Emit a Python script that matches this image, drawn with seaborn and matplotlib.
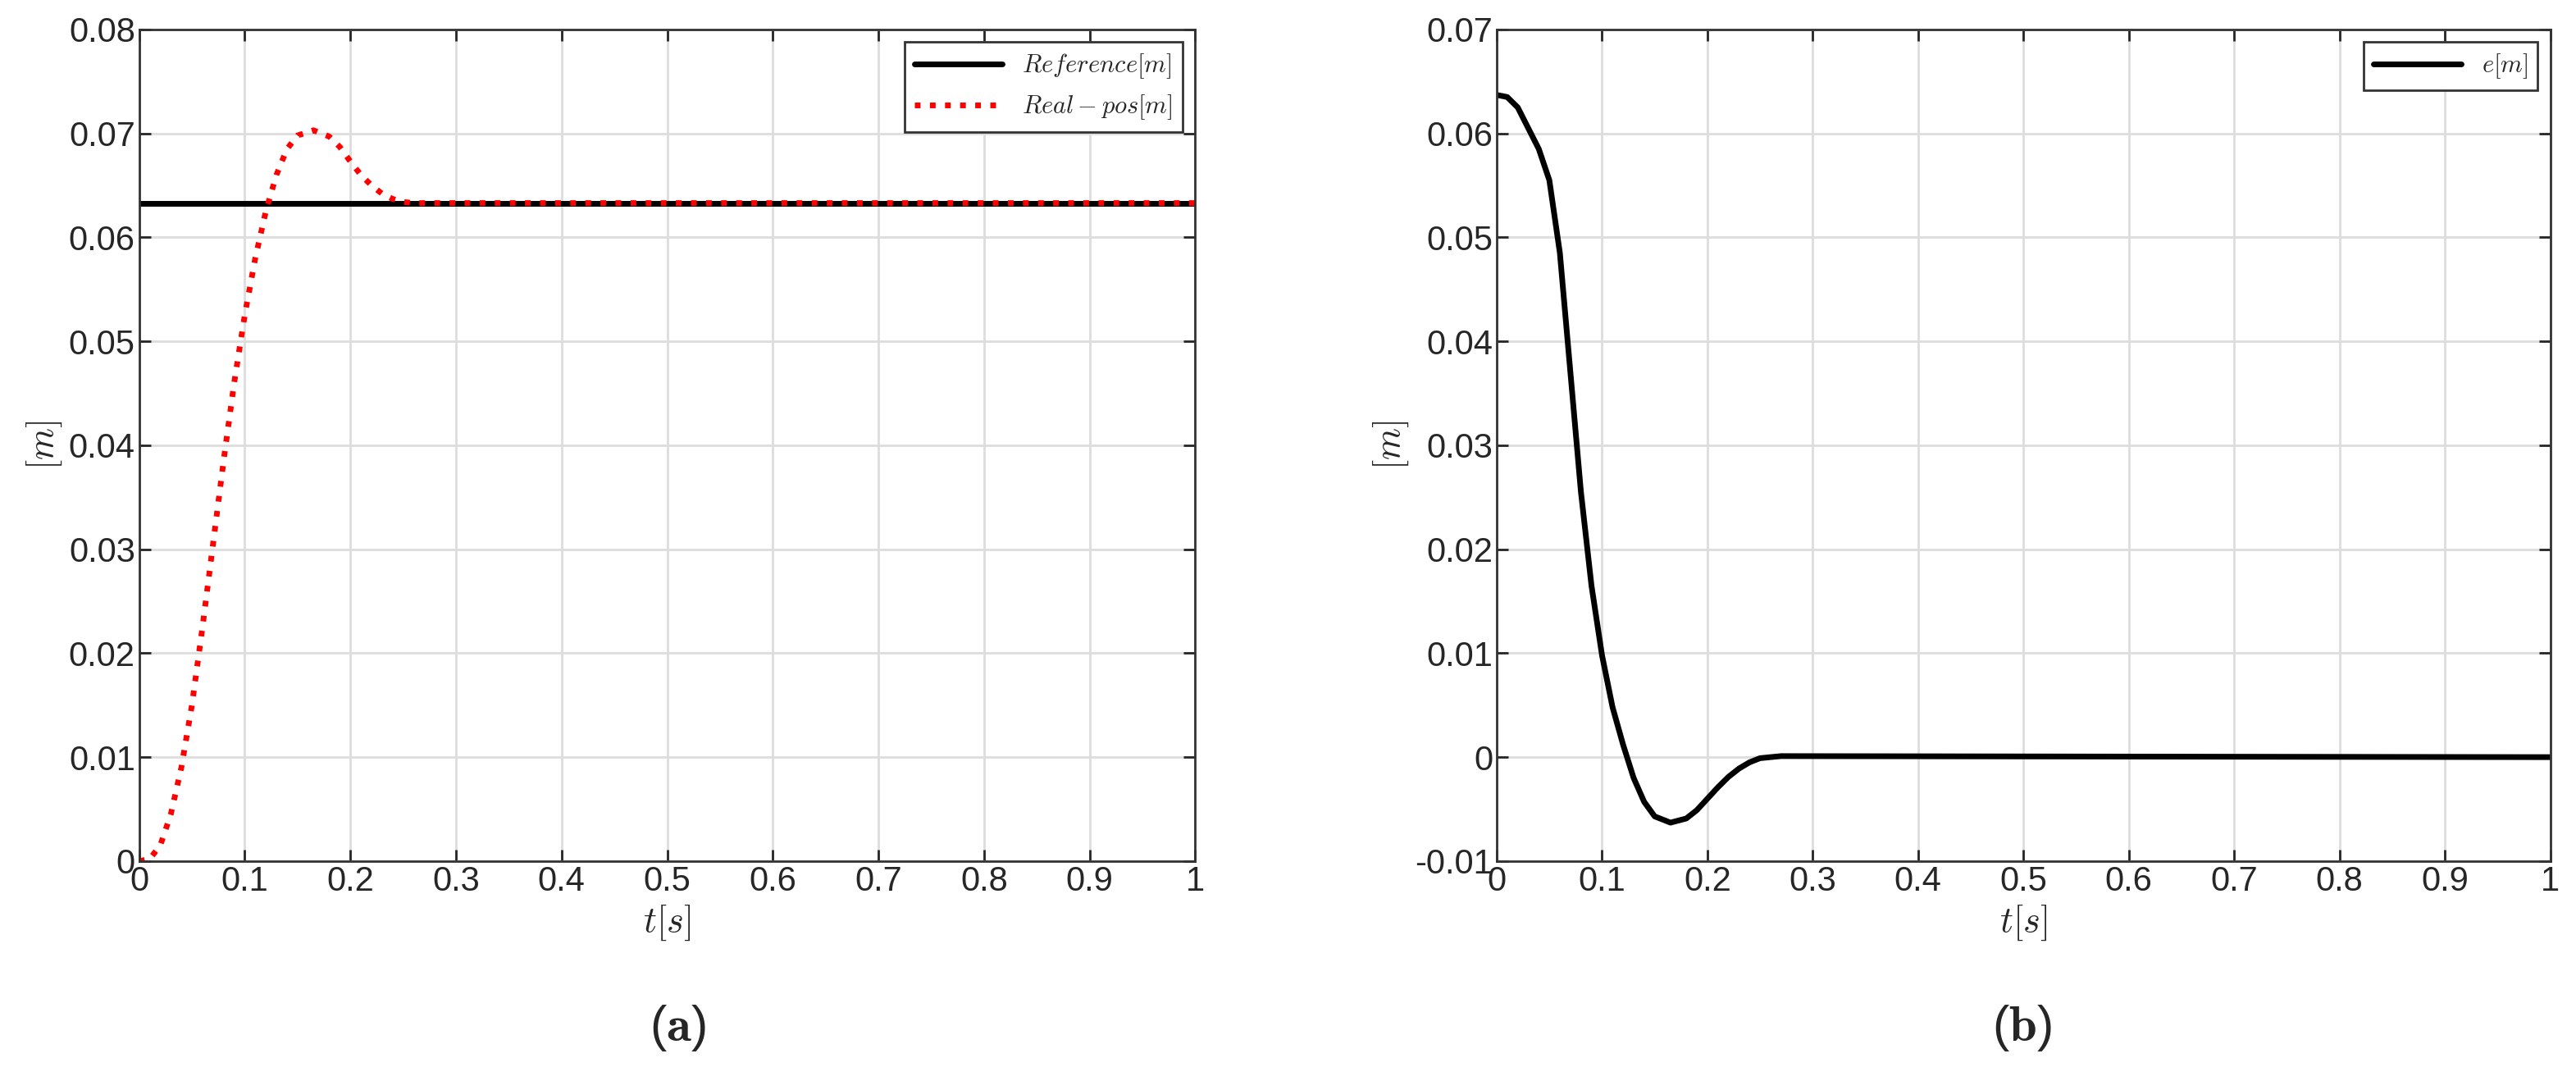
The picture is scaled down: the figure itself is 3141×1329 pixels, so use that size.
import matplotlib
matplotlib.use("Agg")
import matplotlib.pyplot as plt
import seaborn as sns
import pandas as pd

t_pos = [0, 0.01, 0.02, 0.03, 0.04, 0.05, 0.06, 0.07, 0.08, 0.09, 0.10, 0.11, 0.12, 0.13, 0.14, 0.15, 0.165, 0.18, 0.19, 0.20, 0.21, 0.22, 0.23, 0.24, 0.25, 0.26, 0.27, 1.0]
pos = [0, 0.0002, 0.0015, 0.0045, 0.0090, 0.0150, 0.0225, 0.0305, 0.0385, 0.0460, 0.0525, 0.0580, 0.0625, 0.0660, 0.0685, 0.0698, 0.0703, 0.0697, 0.0687, 0.0673, 0.0660, 0.0650, 0.0642, 0.0637, 0.0634, 0.0633, 0.0633, 0.0633]
t_ref = [0, 1.0]
ref = [0.0633, 0.0633]
t_err = [0, 0.01, 0.02, 0.03, 0.04, 0.05, 0.06, 0.07, 0.08, 0.09, 0.10, 0.11, 0.12, 0.13, 0.14, 0.15, 0.165, 0.18, 0.19, 0.20, 0.21, 0.22, 0.23, 0.24, 0.25, 0.26, 0.27, 1.0]
err = [0.0637, 0.0635, 0.0625, 0.0605, 0.0585, 0.0555, 0.0485, 0.0370, 0.0255, 0.0165, 0.0098, 0.0048, 0.0012, -0.0020, -0.0043, -0.0057, -0.0063, -0.0059, -0.0051, -0.0040, -0.0029, -0.0019, -0.0011, -0.0005, -0.0001, 0.0000, 0.0001, 0.0]

sns.set_theme(style="whitegrid")
plt.rcParams['font.family'] = ['Liberation Sans', 'DejaVu Sans']
plt.rcParams['mathtext.fontset'] = 'cm'

fig = plt.figure(figsize=(31.41, 13.29), dpi=100)
ax1 = fig.add_axes([0.054, 0.21, 0.41, 0.763])
ax2 = fig.add_axes([0.581, 0.21, 0.409, 0.763])

sns.lineplot(x=t_ref, y=ref, ax=ax1, color='black', lw=5, label=r'$Reference[m]$')
sns.lineplot(x=t_pos, y=pos, ax=ax1, color='red', lw=5, linestyle=':', label=r'$Real-pos[m]$')
ax1.set_ylim(0, 0.08)
ax1.set_yticks([i/100 for i in range(9)])
ax1.set_yticklabels(['0'] + [f'{i/100:.2f}' for i in range(1, 9)])

sns.lineplot(x=t_err, y=err, ax=ax2, color='black', lw=5, label=r'$e[m]$')
ax2.set_ylim(-0.01, 0.07)
ax2.set_yticks([i/100 for i in range(-1, 8)])
ax2.set_yticklabels(['-0.01', '0'] + [f'{i/100:.2f}' for i in range(1, 8)])

for ax in (ax1, ax2):
    ax.set_xlim(0, 1)
    ax.set_xticks([i/10 for i in range(11)])
    ax.set_xticklabels(['0'] + [f'{i/10:.1f}' for i in range(1, 10)] + ['1'])
    ax.tick_params(labelsize=30, direction='in', length=10, width=2, colors='#262626',
                   top=True, right=True, bottom=True, left=True)
    ax.grid(True, color='#dddddd', lw=2)
    for s in ax.spines.values():
        s.set_color('#333333'); s.set_linewidth(2)
    ax.set_xlabel(r'$t[s]$', fontsize=32)
    ax.set_ylabel(r'$[m]$', fontsize=32)
    leg = ax.legend(loc='upper right', fontsize=22, fancybox=False, framealpha=1,
                    edgecolor='#333333', handlelength=3.5)
    leg.get_frame().set_linewidth(2)

fig.text(0.263, 0.045, r'($\mathbf{a}$)', ha='center', fontsize=44)
fig.text(0.785, 0.045, r'($\mathbf{b}$)', ha='center', fontsize=44)
fig.savefig('out.png', dpi=100)
